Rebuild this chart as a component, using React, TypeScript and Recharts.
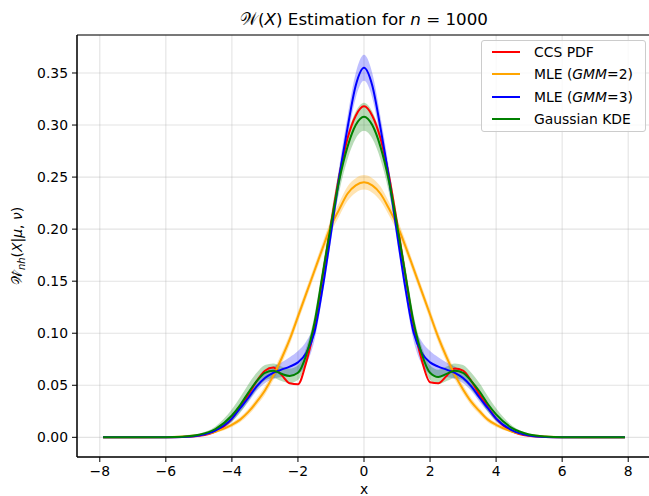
import React from "react";
import { Area, CartesianGrid, ComposedChart, Label, Line, ReferenceArea, XAxis, YAxis } from "recharts";

const FONT = "'DejaVu Sans', sans-serif";

// sample positions along x
const xs = [
  -7.9, -7, -6, -5.5, -5, -4.5, -4, -3.75, -3.5, -3.25, -3, -2.75, -2.5, -2.25, -2, -1.75, -1.5, -1.25, -1, -0.75, -0.5, -0.25, 0,
  0.25, 0.5, 0.75, 1, 1.25, 1.5, 1.75, 2, 2.25, 2.5, 2.75, 3, 3.25, 3.5, 3.75, 4, 4.5, 5, 5.5, 6, 7, 7.9,
];

const ccsPdf = [
  0, 0, 0.0001, 0.0003, 0.0014, 0.0055, 0.018, 0.029, 0.041, 0.054, 0.064, 0.067, 0.06, 0.052, 0.051, 0.072, 0.106, 0.155, 0.205, 0.251, 0.287, 0.309, 0.318,
  0.309, 0.287, 0.252, 0.206, 0.156, 0.108, 0.074, 0.053, 0.052, 0.059, 0.066, 0.064, 0.054, 0.041, 0.029, 0.018, 0.0055, 0.0014, 0.0003, 0.0001, 0, 0,
];

const gmm2Mean = [
  0, 0, 0.0003, 0.0008, 0.0022, 0.0054, 0.012, 0.017, 0.0244, 0.034, 0.045, 0.059, 0.0755, 0.094, 0.116, 0.138, 0.16, 0.182, 0.203, 0.219, 0.234, 0.242, 0.245,
  0.242, 0.234, 0.22, 0.204, 0.184, 0.162, 0.14, 0.118, 0.096, 0.077, 0.06, 0.046, 0.034, 0.025, 0.017, 0.012, 0.0054, 0.0022, 0.0008, 0.0003, 0, 0,
];
const gmm2Err = [
  0, 0, 0.0001, 0.0003, 0.0006, 0.001, 0.002, 0.0025, 0.003, 0.0035, 0.004, 0.0045, 0.005, 0.005, 0.005, 0.005, 0.005, 0.0055, 0.006, 0.0065, 0.007, 0.007, 0.007,
  0.007, 0.007, 0.0065, 0.006, 0.0055, 0.005, 0.005, 0.005, 0.005, 0.005, 0.0045, 0.004, 0.0035, 0.003, 0.0025, 0.002, 0.001, 0.0006, 0.0003, 0.0001, 0, 0,
];

const gmm3Mean = [
  0, 0, 0.0001, 0.0004, 0.0018, 0.0065, 0.018, 0.028, 0.038, 0.049, 0.057, 0.062, 0.065, 0.068, 0.072, 0.081, 0.101, 0.144, 0.196, 0.25, 0.297, 0.338, 0.355,
  0.338, 0.297, 0.25, 0.196, 0.144, 0.101, 0.081, 0.072, 0.068, 0.065, 0.062, 0.057, 0.049, 0.038, 0.028, 0.018, 0.0065, 0.0018, 0.0004, 0.0001, 0, 0,
];
const gmm3Err = [
  0, 0, 0, 0.0002, 0.0005, 0.0015, 0.003, 0.0035, 0.004, 0.0045, 0.005, 0.006, 0.007, 0.009, 0.011, 0.011, 0.008, 0.007, 0.008, 0.01, 0.011, 0.012, 0.0125,
  0.012, 0.011, 0.01, 0.008, 0.007, 0.008, 0.011, 0.011, 0.009, 0.007, 0.006, 0.005, 0.0045, 0.004, 0.0035, 0.003, 0.0015, 0.0005, 0.0002, 0, 0, 0,
];

const kdeMean = [
  0, 0, 0.0001, 0.0006, 0.0025, 0.008, 0.021, 0.031, 0.043, 0.054, 0.062, 0.064, 0.061, 0.059, 0.062, 0.079, 0.11, 0.157, 0.204, 0.247, 0.279, 0.3, 0.308,
  0.3, 0.279, 0.247, 0.204, 0.157, 0.111, 0.08, 0.062, 0.058, 0.061, 0.064, 0.062, 0.054, 0.044, 0.032, 0.022, 0.0085, 0.0027, 0.0007, 0.0001, 0, 0,
];
const kdeErr = [
  0, 0, 0.0001, 0.0004, 0.001, 0.0025, 0.006, 0.0075, 0.008, 0.008, 0.0075, 0.007, 0.007, 0.007, 0.007, 0.007, 0.007, 0.008, 0.009, 0.011, 0.012, 0.013, 0.0135,
  0.013, 0.012, 0.011, 0.009, 0.008, 0.007, 0.007, 0.007, 0.007, 0.007, 0.007, 0.0075, 0.008, 0.008, 0.0075, 0.006, 0.0025, 0.001, 0.0004, 0.0001, 0, 0,
];

const xTicks = [-8, -6, -4, -2, 0, 2, 4, 6, 8];
const yTicks = [0, 0.05, 0.1, 0.15, 0.2, 0.25, 0.3, 0.35];

const X_DOMAIN: [number, number] = [-8.69, 8.69];
const Y_DOMAIN: [number, number] = [-0.0189, 0.3865];

const rows = xs.map((x, i) => ({
  x,
  ccs: ccsPdf[i],
  gmm2: gmm2Mean[i],
  gmm2Band: [gmm2Mean[i] - gmm2Err[i], gmm2Mean[i] + gmm2Err[i]],
  gmm3: gmm3Mean[i],
  gmm3Band: [gmm3Mean[i] - gmm3Err[i], gmm3Mean[i] + gmm3Err[i]],
  kde: kdeMean[i],
  kdeBand: [kdeMean[i] - kdeErr[i], kdeMean[i] + kdeErr[i]],
}));

const legendItems = [
  { color: "#ff0000", label: <>CCS PDF</> },
  { color: "#ffa500", label: <>MLE (<i>GMM</i>=2)</> },
  { color: "#0000ff", label: <>MLE (<i>GMM</i>=3)</> },
  { color: "#008000", label: <>Gaussian KDE</> },
];

const minus = (v: number) => (v < 0 ? "\u2212" + Math.abs(v) : String(v));
const tickStyle = { fill: "#000", fontSize: 13.9, fontFamily: FONT };

export default function App() {
  return (
    <div style={{ position: "fixed", left: 0, top: 0, width: 649, height: 496, overflow: "hidden", background: "#fff" }}>
      <ComposedChart width={652} height={496} data={rows} margin={{ top: 35, right: 1, bottom: 0, left: 0 }}>
        <CartesianGrid stroke="#b0b0b0" strokeOpacity={0.35} strokeWidth={1.1} />
        <XAxis
          dataKey="x"
          type="number"
          domain={X_DOMAIN}
          ticks={xTicks}
          allowDataOverflow
          tickFormatter={minus}
          tick={tickStyle}
          tickLine={{ stroke: "#000" }}
          axisLine={{ stroke: "#000" }}
          tickSize={5}
          tickMargin={4}
          height={39}
        >
          <Label
            content={() => (
              <text x={364} y={494} textAnchor="middle" fontSize={13.9} fontFamily={FONT} fill="#000">
                x
              </text>
            )}
          />
        </XAxis>
        <YAxis
          type="number"
          domain={Y_DOMAIN}
          ticks={yTicks}
          allowDataOverflow
          tickFormatter={(v: number) => v.toFixed(2)}
          tick={tickStyle}
          tickLine={{ stroke: "#000" }}
          axisLine={{ stroke: "#000" }}
          tickSize={5}
          tickMargin={4}
          width={77}
        >
          <Label
            content={() => (
              <text
                x={22}
                y={246}
                transform="rotate(-90 22 246)"
                textAnchor="middle"
                fontSize={13.9}
                fontFamily={FONT}
                fill="#000"
              >
                <tspan>{"\u{1D4B2}\u0302"}</tspan>
                <tspan fontSize={10} dy={3} fontStyle="italic">nh</tspan>
                <tspan dy={-3}>(</tspan>
                <tspan fontStyle="italic">X</tspan>
                <tspan>|</tspan>
                <tspan fontStyle="italic">μ</tspan>
                <tspan>, </tspan>
                <tspan fontStyle="italic">ν</tspan>
                <tspan>)</tspan>
              </text>
            )}
          />
        </YAxis>

        <Area dataKey="gmm2Band" type="monotone" stroke="none" fill="#ffa500" fillOpacity={0.3} isAnimationActive={false} />
        <Area dataKey="gmm3Band" type="monotone" stroke="none" fill="#0000ff" fillOpacity={0.25} isAnimationActive={false} />
        <Area dataKey="kdeBand" type="monotone" stroke="none" fill="#008000" fillOpacity={0.28} isAnimationActive={false} />

        <Line dataKey="ccs" type="monotone" stroke="#ff0000" strokeWidth={2} dot={false} isAnimationActive={false} />
        <Line dataKey="gmm2" type="monotone" stroke="#ffa500" strokeWidth={2} dot={false} isAnimationActive={false} />
        <Line dataKey="gmm3" type="monotone" stroke="#0000ff" strokeWidth={2} dot={false} isAnimationActive={false} />
        <Line dataKey="kde" type="monotone" stroke="#008000" strokeWidth={2} dot={false} isAnimationActive={false} />

        <ReferenceArea
          x1={X_DOMAIN[0]}
          x2={X_DOMAIN[1]}
          y1={Y_DOMAIN[0]}
          y2={Y_DOMAIN[1]}
          fill="none"
          fillOpacity={0}
          stroke="#000"
          strokeWidth={1}
          ifOverflow="visible"
        />
      </ComposedChart>

      <div
        style={{
          position: "absolute",
          left: 0,
          width: 728,
          top: 9,
          textAlign: "center",
          fontFamily: FONT,
          fontSize: 16.7,
          color: "#000",
          whiteSpace: "nowrap",
        }}
      >
        {"\u{1D4B2}"}(<i>X</i>) Estimation for <i>n</i> = 1000
      </div>

      <div
        style={{
          position: "absolute",
          left: 481,
          top: 40,
          width: 163,
          height: 90,
          border: "1px solid #cccccc",
          borderRadius: 3,
          background: "rgba(255,255,255,0.8)",
          fontFamily: FONT,
          fontSize: 13.9,
          color: "#000",
        }}
      >
        {legendItems.map((item, i) => (
          <div key={i} style={{ position: "absolute", left: 0, top: 3 + i * 22.4, height: 16, display: "flex", alignItems: "center", whiteSpace: "nowrap" }}>
            <span style={{ display: "inline-block", marginLeft: 10, width: 28, height: 2, background: item.color }} />
            <span style={{ marginLeft: 14 }}>{item.label}</span>
          </div>
        ))}
      </div>
    </div>
  );
}
